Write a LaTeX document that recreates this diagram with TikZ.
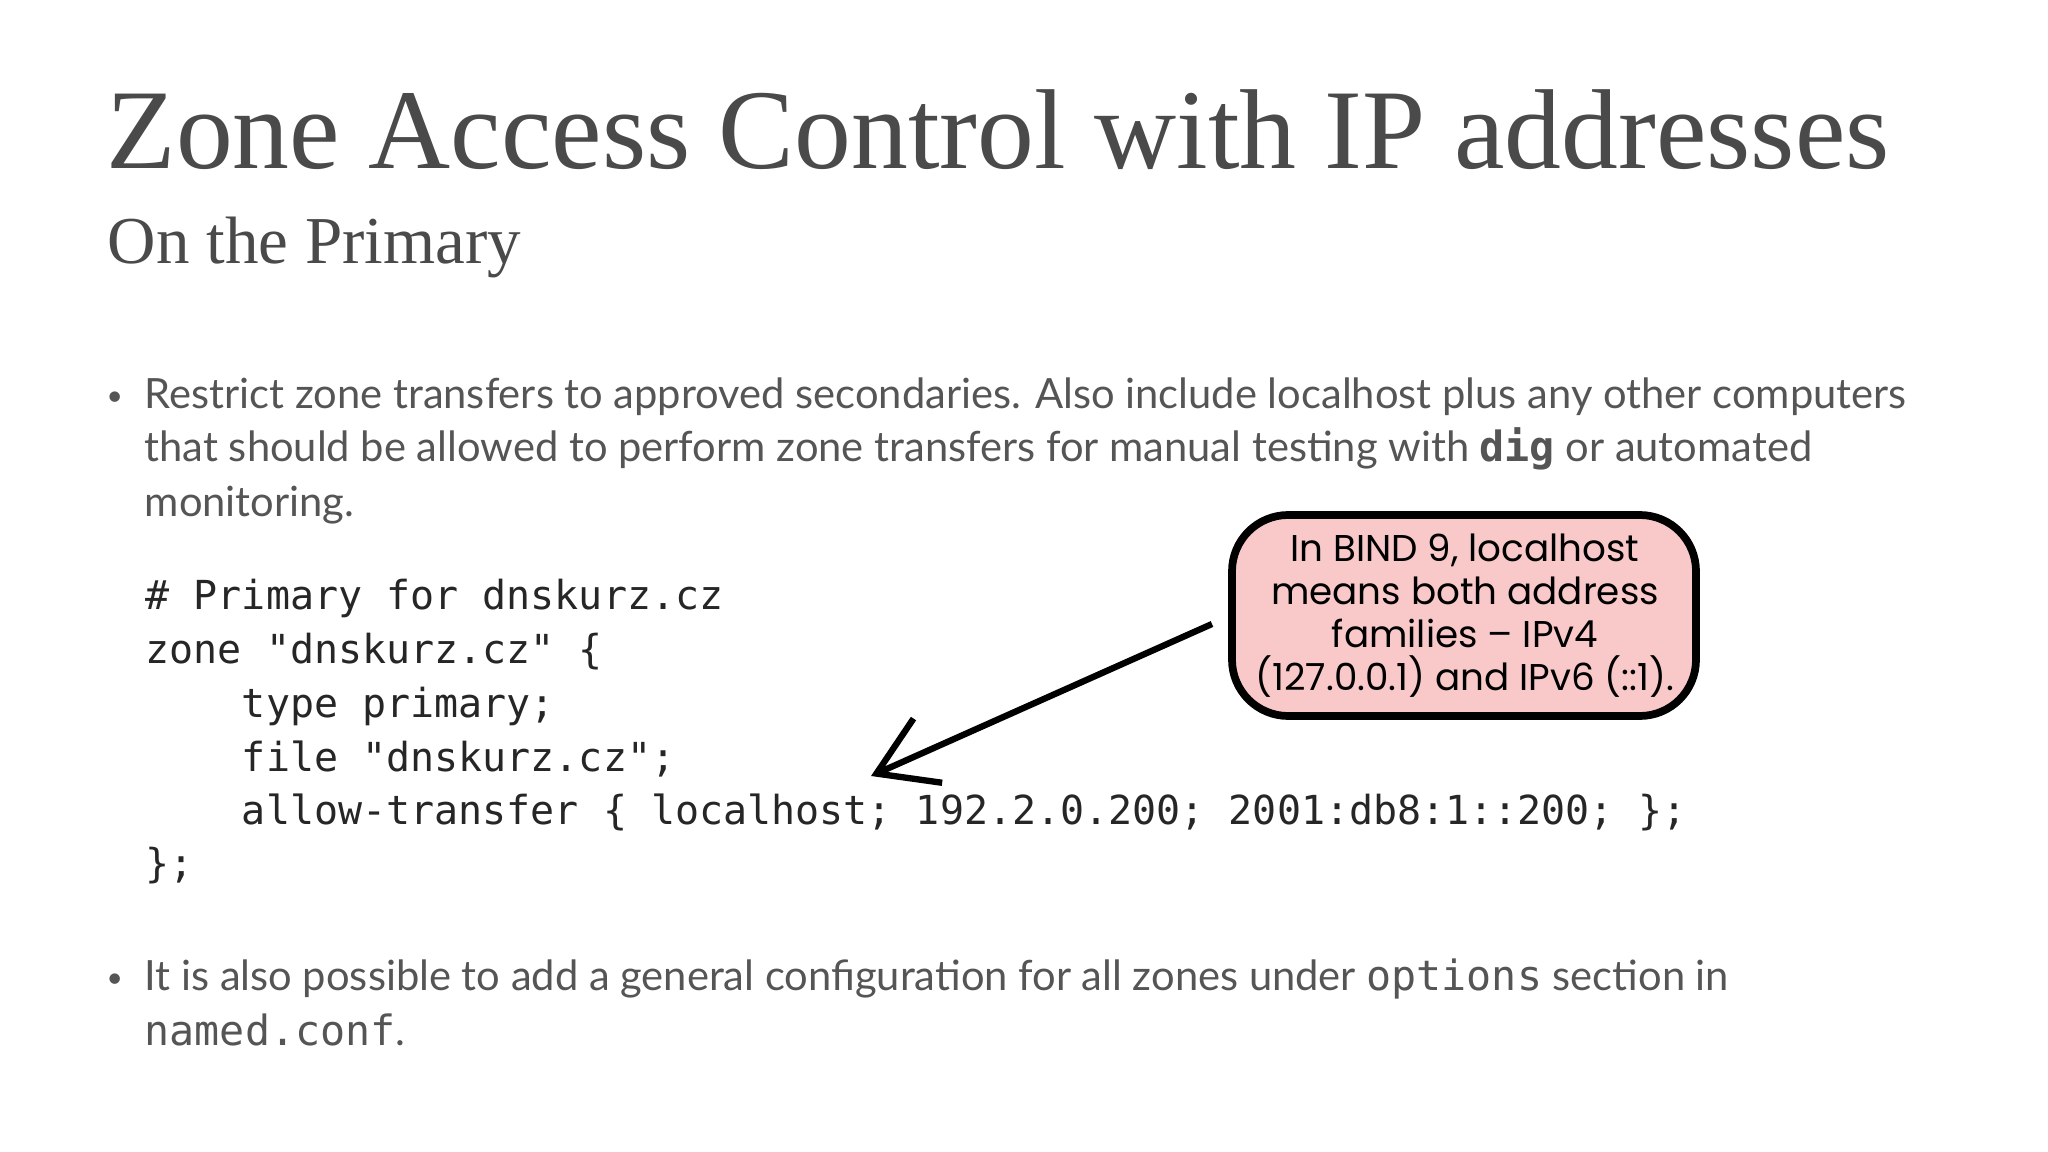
\documentclass[tikz,border=0pt]{standalone}
\usepackage{fontspec}
\setmainfont{Liberation Serif}
\newfontfamily\bodyf{Lato}
\newfontfamily\codef{DejaVu Sans Mono}
\newfontfamily\handf{Poppins}
\usetikzlibrary{arrows.meta}
\definecolor{txt}{HTML}{555555}
\definecolor{ttl}{HTML}{4A4A4A}
\definecolor{pinkf}{HTML}{F9C9C9}
\begin{document}
\begin{tikzpicture}[x=0.01cm,y=-0.01cm,
  body/.style={anchor=base west,inner sep=0,text=txt,font=\bodyf\fontsize{11.85}{15}\selectfont},
  code/.style={anchor=base west,inner sep=0,text=black!85,font=\codef\fontsize{11.37}{14}\selectfont},
  hand/.style={anchor=base,inner sep=0,font=\handf\fontsize{10.6}{12}\selectfont}]
\useasboundingbox (0,0) rectangle (2048,1152);
\fill[white] (0,0) rectangle (2048,1152);
\node[anchor=base west,inner sep=0,text=ttl,font=\fontsize{33}{36}\selectfont] (title) at (106,169) {\resizebox{17.82cm}{!}{Zone Access Control with IP addresses}};
\node[anchor=base west,inner sep=0,text=ttl,font=\fontsize{19}{22}\selectfont] (sub) at (107,264) {\resizebox{4.13cm}{!}{On the Primary}};
\node[body,font=\bodyf\fontsize{8}{10}\selectfont] (b1) at (106,406) {•};
\node[body] (l1) at (144,409) {Restrict zone transfers to approved secondaries. Also include localhost plus any other computers};
\node[body] (l2) at (144,462) {that should be allowed to perform zone transfers for manual testing with {\codef\bfseries dig} or automated};
\node[body] (l3) at (144,517) {monitoring.};
\node[code] (c1) at (145,610) {\# Primary for dnskurz.cz};
\node[code] (c2) at (145,663) {zone "dnskurz.cz" \{};
\node[code] (c3) at (145,717) {\ \ \ \ type primary;};
\node[code] (c4) at (145,771) {\ \ \ \ file "dnskurz.cz";};
\node[code] (c5) at (145,824) {\ \ \ \ allow-transfer \{ localhost; 192.2.0.200; 2001:db8:1::200; \};};
\node[code] (c6) at (145,877) {\};};
\node[body,font=\bodyf\fontsize{8}{10}\selectfont] (b2) at (106,987) {•};
\node[body] (m1) at (144,990) {It is also possible to add a general configuration for all zones under {\codef options} section in};
\node[body] (m2) at (144,1045) {{\codef named.conf}.};
\draw[line width=2.2pt,fill=pinkf,rounded corners=16] (1232,515) rectangle (1696,716);
\node[hand] (h1) at (1465,561) {In BIND 9, localhost};
\node[hand] (h2) at (1465,604) {means both address};
\node[hand] (h3) at (1465,647) {families – IPv4};
\node[hand] (h4) at (1465,690) {(127.0.0.1) and IPv6 (::1).};
\coordinate (as) at (1212,624);
\coordinate (ae) at (871,776);
\draw[line width=1.8pt,-{Straight Barb[length=16pt,width=20pt]}] (as) -- (ae);
\end{tikzpicture}
\end{document}
